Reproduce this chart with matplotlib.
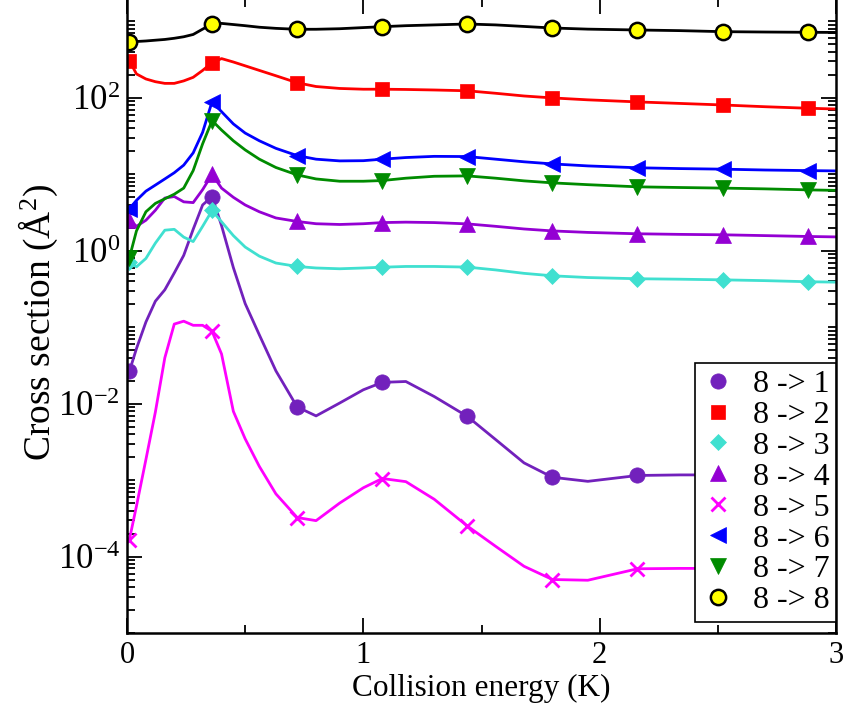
import matplotlib
matplotlib.use("Agg")
import numpy as np
import matplotlib.pyplot as plt
from matplotlib.lines import Line2D
from matplotlib.ticker import FixedLocator, LogLocator, MultipleLocator, NullFormatter

plt.rcParams['font.family'] = ['Liberation Serif', 'DejaVu Serif']
plt.rcParams['mathtext.fontset'] = 'custom'
plt.rcParams['mathtext.rm'] = 'Liberation Serif'
plt.rcParams['mathtext.it'] = 'Liberation Serif:italic'

# collision energy (K) of the curves, and energies where symbols are drawn
energy = [0.01, 0.04, 0.08, 0.12, 0.16, 0.20, 0.24, 0.28, 0.32, 0.36, 0.40,
          0.45, 0.50, 0.56, 0.63, 0.72, 0.80, 0.90, 1.00, 1.08, 1.18, 1.30,
          1.44, 1.56, 1.68, 1.80, 1.95, 2.16, 2.34, 2.52, 2.70, 2.88, 3.00]
marked_energy = [0.01, 0.36, 0.72, 1.08, 1.44, 1.80, 2.16, 2.52, 2.88]

# cross sections (A^2)
sigma_8_1 = [0.0264, 0.0525, 0.117, 0.219, 0.309, 0.513, 0.871, 1.91, 3.98, 5.13, 2.14,
             0.603, 0.204, 0.0794, 0.0269, 0.00906, 0.00692, 0.0102, 0.0152, 0.0190, 0.0195, 0.0124,
             0.00682, 0.00339, 0.00168, 0.00109, 0.000964, 0.00115, 0.00117, 0.00117, 0.00117, 0.00117, 0.00117]
sigma_8_2 = [307, 206, 177, 163, 155, 155, 167, 186, 229, 289, 327,
             295, 263, 229, 195, 158, 141, 133, 130, 130, 129, 127,
             124, 115, 106, 100, 94.4, 88.7, 84.7, 80.9, 76.7, 73.3, 71.6]
sigma_8_3 = [0.724, 0.617, 0.794, 1.26, 1.86, 1.91, 1.51, 1.32, 2.09, 3.37, 2.40,
             1.58, 1.12, 0.851, 0.692, 0.624, 0.596, 0.582, 0.596, 0.610, 0.624, 0.624,
             0.612, 0.562, 0.507, 0.471, 0.447, 0.431, 0.425, 0.417, 0.407, 0.394, 0.389]
sigma_8_4 = [2.54, 2.09, 2.51, 3.39, 4.90, 5.13, 4.37, 4.27, 6.31, 10.0, 6.61,
             5.01, 3.98, 3.24, 2.69, 2.42, 2.26, 2.21, 2.26, 2.34, 2.37, 2.34,
             2.25, 2.09, 1.93, 1.82, 1.74, 1.67, 1.64, 1.62, 1.58, 1.54, 1.52]
sigma_8_5 = [1.66e-4, 4.57e-4, 1.86e-3, 7.76e-3, 0.0398, 0.110, 0.120, 0.106, 0.106, 0.0881, 0.0447,
             7.94e-3, 3.47e-3, 1.51e-3, 6.61e-4, 3.24e-4, 2.95e-4, 5.01e-4, 7.94e-4, 1.05e-3, 9.55e-4, 5.62e-4,
             2.51e-4, 1.36e-4, 7.46e-5, 5.01e-5, 4.90e-5, 6.92e-5, 7.0e-5, 7.0e-5, 7.0e-5, 7.0e-5, 7.0e-5]
sigma_8_6 = [3.54, 4.57, 6.03, 7.24, 8.71, 10.5, 13.2, 19.1, 35.5, 89.5, 66.1,
             45.7, 34.7, 27.5, 21.9, 17.6, 15.8, 15.0, 15.1, 15.8, 16.6, 17.2,
             17.1, 15.8, 14.6, 13.7, 12.9, 12.2, 11.9, 11.7, 11.4, 11.2, 11.1]
sigma_8_7 = [0.809, 1.82, 3.24, 4.17, 4.79, 5.50, 6.61, 11.2, 25.1, 50.5, 38.0,
             27.5, 20.9, 15.8, 12.3, 9.84, 8.71, 8.13, 8.13, 8.30, 8.91, 9.44,
             9.55, 8.91, 8.22, 7.74, 7.33, 6.87, 6.73, 6.61, 6.46, 6.27, 6.17]
sigma_8_8 = [545, 547, 556, 569, 582, 603, 631, 676, 794, 927, 944,
             912, 881, 841, 813, 790, 791, 804, 832, 855, 881, 902,
             927, 902, 861, 822, 794, 774, 759, 736, 728, 722, 719]

labels = ["8 -> 1", "8 -> 2", "8 -> 3", "8 -> 4", "8 -> 5", "8 -> 6", "8 -> 7", "8 -> 8"]
series = [sigma_8_1, sigma_8_2, sigma_8_3, sigma_8_4, sigma_8_5, sigma_8_6, sigma_8_7, sigma_8_8]

# (line colour, marker, face colour, edge colour, marker size, edge width)
styles = [
    ("#7221bc", "o", "#7221bc", "#7221bc", 11, 0.5),
    ("#ff0000", "s", "#ff0000", "#ff0000", 10, 0.5),
    ("#40e0d0", "D", "#40e0d0", "#40e0d0", 8, 0.5),
    ("#9400d3", "^", "#9400d3", "#9400d3", 12, 0.5),
    ("#ff00ff", "x", "#ff00ff", "#ff00ff", 10, 2.0),
    ("#0000ff", "<", "#0000ff", "#0000ff", 12, 0.5),
    ("#008b00", "v", "#008b00", "#008b00", 12, 0.5),
    ("#000000", "o", "#ffff00", "#000000", 11, 1.8),
]

marked_idx = [energy.index(e) for e in marked_energy]

fig = plt.figure(figsize=(8.44, 7.06), dpi=100)
ax = fig.add_axes([127 / 844, 73 / 706, 709 / 844, 634.45 / 706])

handles = []
for vals, lab, (lc, mk, fc, ec, ms, mew) in zip(series, labels, styles):
    ax.plot(energy, vals, color=lc, lw=2.0, marker=mk, markevery=marked_idx,
            mfc=fc, mec=ec, ms=ms, mew=mew)
    handles.append(Line2D([], [], ls="none", marker=mk, mfc=fc, mec=ec, ms=ms, mew=mew))

ax.set_yscale("log")
ax.set_xlim(0, 3)
ax.set_ylim(1e-5, 10 ** 3.3)

ax.xaxis.set_major_locator(MultipleLocator(1))
ax.xaxis.set_minor_locator(MultipleLocator(0.5))
ax.yaxis.set_major_locator(FixedLocator([1e-4, 1e-2, 1e0, 1e2]))
ax.yaxis.set_minor_locator(LogLocator(base=10, subs=np.arange(1, 10), numticks=60))
ax.yaxis.set_minor_formatter(NullFormatter())
ax.set_yticklabels([r"$10^{-4}$", r"$10^{-2}$", r"$10^{0}$", r"$10^{2}$"])

ax.tick_params(which="both", direction="in", top=True, right=True, width=1.3)
ax.tick_params(which="major", length=11)
ax.tick_params(which="minor", length=5.5)
ax.tick_params(axis="x", labelsize=22, pad=6)
ax.tick_params(axis="y", labelsize=25, pad=5)
for sp in ax.spines.values():
    sp.set_linewidth(1.8)

ax.set_xlabel("Collision energy (K)", fontsize=22.5)
ax.xaxis.set_label_coords(0.5, -0.064)
ax.set_ylabel(r"Cross section (Å$^{2}$)", fontsize=27)
ax.yaxis.set_label_coords(-0.094, 0.489)

leg = ax.legend(handles, labels, loc="upper right", bbox_to_anchor=(1.0, 0.4256),
                borderaxespad=0, fontsize=23, frameon=True, fancybox=False,
                framealpha=1, edgecolor="black", labelspacing=0.05,
                handlelength=1.0, handletextpad=0.6, borderpad=0.2)
leg.get_frame().set_linewidth(1.2)

fig.savefig("out.png", dpi=100)
